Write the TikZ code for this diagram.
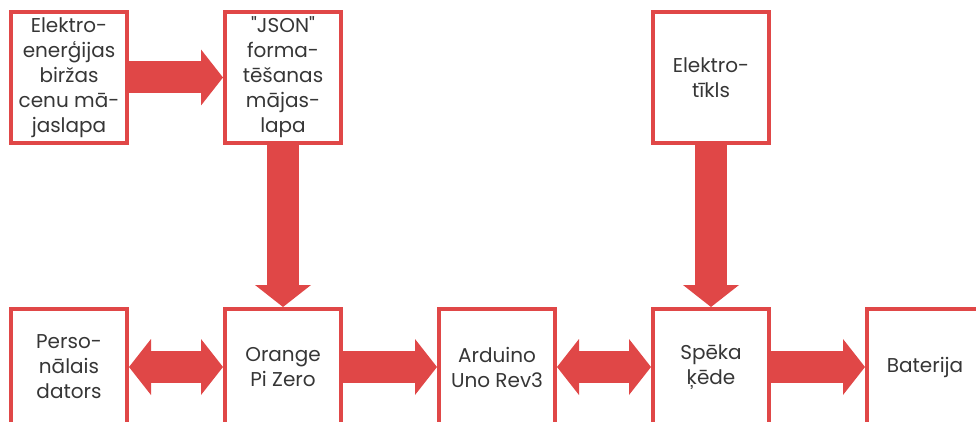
\documentclass[tikz,border=0pt]{standalone}
\usepackage{fontspec}
\setmainfont{Poppins}[Ligatures=TeXOff]
\usepackage{tikz}
\usetikzlibrary{arrows.meta,positioning}
\usepackage{xcolor}
\definecolor{boxred}{HTML}{E04747}
\definecolor{txtgray}{HTML}{363636}

\tikzset{
  blok/.style={draw=boxred,line width=4pt,minimum width=116pt,inner sep=2pt,
    align=center,text=txtgray,font=\fontsize{20}{25}\selectfont},
  augsa/.style={blok,minimum height=131pt},
  apaksa/.style={blok,minimum height=116pt},
  bulta/.style={draw=boxred,line width=32pt,-{Triangle[length=22pt,width=56pt,line width=0pt]}},
  divbulta/.style={draw=boxred,line width=32pt,{Triangle[length=22pt,width=56pt,line width=0pt]}-{Triangle[length=22pt,width=56pt,line width=0pt]}}
}

\begin{document}
\begin{tikzpicture}[x=1pt,y=-1pt]
  \clip (0,0) rectangle (976,422);
  % augsejā rinda
  \node[augsa] (birza) at (69,77.5) {Elektro-\\enerģijas\\biržas\\cenu mā-\\jaslapa};
  \node[augsa] (json) at (283,77.5) {"JSON"\\forma-\\tēšanas\\mājas-\\lapa};
  \node[augsa] (tikls) at (711,77.5) {Elektro-\\tīkls};
  % apakšējā rinda
  \node[apaksa] (pc) at (69,367) {Perso-\\nālais\\dators};
  \node[apaksa,right=94pt of pc] (opi) {Orange\\Pi Zero};
  \node[apaksa,right=94pt of opi] (uno) {Arduino\\Uno Rev3};
  \node[apaksa,right=94pt of uno] (kede) {Spēka\\ķēde};
  \node[apaksa,right=94pt of kede] (bat) {Baterija};
  % bultas
  \draw[bulta] (birza) -- (json);
  \draw[bulta] (json) -- (opi);
  \draw[bulta] (tikls) -- (kede);
  \draw[divbulta] (pc) -- (opi);
  \draw[bulta] (opi) -- (uno);
  \draw[divbulta] (uno) -- (kede);
  \draw[bulta] (kede) -- (bat);
\end{tikzpicture}
\end{document}
